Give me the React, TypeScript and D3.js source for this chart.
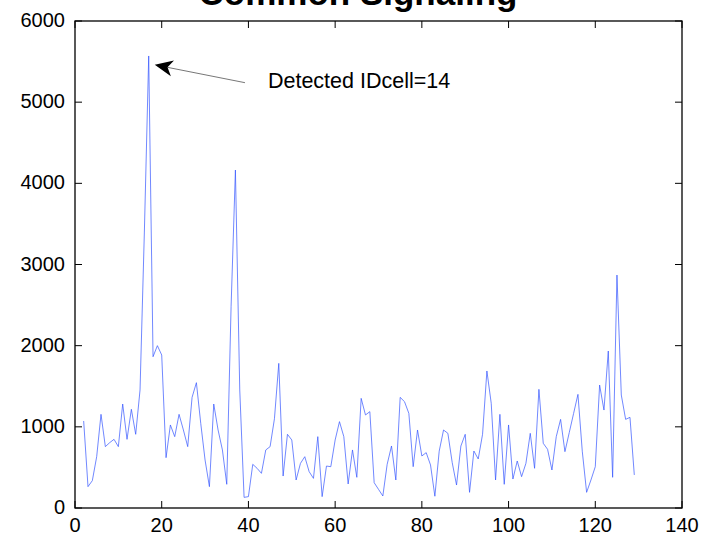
import React, { useEffect, useRef } from "react";
import * as d3 from "d3";

// first sample sits at x = 2, one sample per unit after that
const xStart = 2;
const signal = [
  1072, 263, 337, 632, 1154, 756, 805, 846, 756, 1281,
  846, 1216, 908, 1454, 3400, 5569, 1864, 2000, 1885, 620,
  1023, 879, 1154, 961, 756, 1363, 1544, 1043, 591, 263,
  1281, 961, 715, 292, 2480, 4164, 1454, 131, 140, 538,
  489, 427, 715, 756, 1100, 1782, 394, 908, 838, 345,
  550, 632, 448, 365, 879, 140, 517, 509, 838, 1064,
  879, 296, 715, 378, 1351, 1146, 1187, 312, 230, 148,
  538, 764, 345, 1363, 1310, 1166, 509, 961, 641, 682,
  530, 145, 700, 961, 920, 560, 283, 764, 908, 193,
  702, 604, 908, 1688, 1290, 345, 1154, 292, 1023, 357,
  579, 386, 550, 920, 489, 1462, 797, 723, 468, 879,
  1092, 694, 930, 1165, 1400, 700, 193, 345, 509, 1515,
  1207, 1934, 378, 2870, 1392, 1092, 1117, 407,
];
const xTicks = [0, 20, 40, 60, 80, 100, 120, 140];
const yTicks = [0, 1000, 2000, 3000, 4000, 5000, 6000];
const title = "Common Signaling";
const noteText = "Detected IDcell=14";
// annotation arrow, data coordinates
const noteTip = [18.4, 5460];
const noteTail = [39.2, 5240];
const noteAt = [44.5, 5180];

const width = 702;
const height = 534;
const margin = { top: 21, right: 20, bottom: 26, left: 75 };

const App = () => {
  const svgRef = useRef<SVGSVGElement>(null);

  useEffect(() => {
    const root = d3.select(svgRef.current);
    root.selectAll("*").remove();

    const x = d3.scaleLinear().domain([0, 140]).range([margin.left, width - margin.right]);
    const y = d3.scaleLinear().domain([0, 6000]).range([height - margin.bottom, margin.top]);
    const [x0, x1] = x.range();
    const [y0, y1] = y.range();
    const font = "'Liberation Sans', Arial, Helvetica, sans-serif";

    // title, mostly clipped off the top of the figure (as in the original export)
    root
      .append("text")
      .attr("x", 358)
      .attr("y", 5)
      .attr("text-anchor", "middle")
      .attr("font-family", font)
      .attr("font-weight", "bold")
      .attr("font-size", 35)
      .text(title);

    // signal
    const line = d3
      .line<number>()
      .x((d, i) => x(xStart + i))
      .y((d) => y(d));
    root
      .append("path")
      .datum(signal)
      .attr("d", line)
      .attr("fill", "none")
      .attr("stroke", "#3355ff")
      .attr("stroke-width", 0.7);

    // box + inward ticks (matlab style)
    const tick = 7;
    const g = root.append("g").attr("stroke", "#000").attr("stroke-width", 1);
    xTicks.forEach((t) => {
      g.append("line").attr("x1", x(t)).attr("x2", x(t)).attr("y1", y0).attr("y2", y0 - tick);
      g.append("line").attr("x1", x(t)).attr("x2", x(t)).attr("y1", y1).attr("y2", y1 + tick);
    });
    yTicks.forEach((t) => {
      g.append("line").attr("x1", x0).attr("x2", x0 + tick).attr("y1", y(t)).attr("y2", y(t));
      g.append("line").attr("x1", x1).attr("x2", x1 - tick).attr("y1", y(t)).attr("y2", y(t));
    });
    root
      .append("rect")
      .attr("x", x0)
      .attr("y", y1)
      .attr("width", x1 - x0)
      .attr("height", y0 - y1)
      .attr("fill", "none")
      .attr("stroke", "#000")
      .attr("stroke-width", 1.3);

    // tick labels
    root
      .append("g")
      .selectAll("text")
      .data(xTicks)
      .enter()
      .append("text")
      .attr("x", (d) => x(d))
      .attr("y", y0 + 23.5)
      .attr("text-anchor", "middle")
      .attr("font-family", font)
      .attr("font-size", 20)
      .text((d) => d);
    root
      .append("g")
      .selectAll("text")
      .data(yTicks)
      .enter()
      .append("text")
      .attr("x", x0 - 10)
      .attr("y", (d) => y(d) + 6)
      .attr("text-anchor", "end")
      .attr("font-family", font)
      .attr("font-size", 20)
      .text((d) => d);

    // annotation arrow
    const tip = [x(noteTip[0]), y(noteTip[1])];
    const tail = [x(noteTail[0]), y(noteTail[1])];
    const len = Math.hypot(tail[0] - tip[0], tail[1] - tip[1]);
    const dx = (tail[0] - tip[0]) / len;
    const dy = (tail[1] - tip[1]) / len;
    const head = 18;
    const half = 8;
    const notch = 13;
    root
      .append("line")
      .attr("x1", tail[0])
      .attr("y1", tail[1])
      .attr("x2", tip[0] + dx * notch)
      .attr("y2", tip[1] + dy * notch)
      .attr("stroke", "#777")
      .attr("stroke-width", 1);
    const pts = [
      [tip[0], tip[1]],
      [tip[0] + dx * head - dy * half, tip[1] + dy * head + dx * half],
      [tip[0] + dx * notch, tip[1] + dy * notch],
      [tip[0] + dx * head + dy * half, tip[1] + dy * head - dx * half],
    ];
    root
      .append("polygon")
      .attr("points", pts.map((p) => p.join(",")).join(" "))
      .attr("fill", "#000");

    root
      .append("text")
      .attr("x", x(noteAt[0]))
      .attr("y", y(noteAt[1]))
      .attr("font-family", font)
      .attr("font-size", 21.5)
      .text(noteText);
  }, []);

  return (
    <svg
      ref={svgRef}
      width={width}
      height={height}
      style={{ position: "absolute", left: 0, top: 0, background: "#fff" }}
    ></svg>
  );
};

export default App;
